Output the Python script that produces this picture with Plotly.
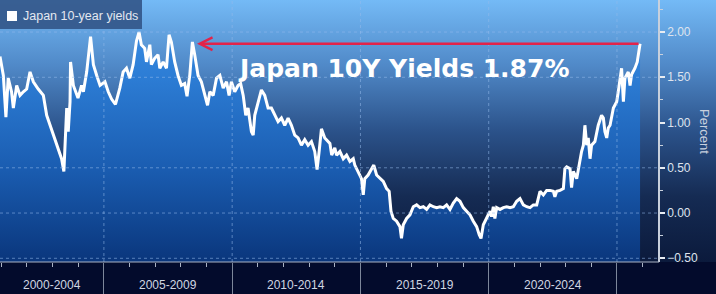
import plotly.graph_objects as go

# ---------------- data ----------------
YEARS = [
    2000.95, 2001.08, 2001.18, 2001.27, 2001.40, 2001.47, 2001.60, 2001.73, 2001.86, 2001.99,
    2002.12, 2002.25, 2002.44, 2002.64, 2002.77, 2002.90, 2003.03, 2003.22, 2003.35, 2003.44,
    2003.51, 2003.55, 2003.61, 2003.68, 2003.70, 2003.81, 2003.99, 2004.13, 2004.20, 2004.33,
    2004.48, 2004.59, 2004.72, 2004.85, 2005.04, 2005.17,
    2005.30, 2005.45, 2005.62, 2005.75, 2005.88, 2006.01, 2006.14, 2006.27, 2006.37, 2006.46,
    2006.59, 2006.66, 2006.79, 2006.85, 2006.98, 2007.11, 2007.18, 2007.31, 2007.44, 2007.54,
    2007.63, 2007.76, 2007.89, 2008.02, 2008.15, 2008.24, 2008.35, 2008.45, 2008.54, 2008.67,
    2008.80, 2008.93, 2009.04, 2009.13, 2009.26, 2009.39, 2009.52,
    2009.65, 2009.78, 2009.88, 2009.97, 2010.10, 2010.23, 2010.33, 2010.43, 2010.53, 2010.62,
    2010.75, 2010.82, 2010.88, 2011.01, 2011.14, 2011.27, 2011.40, 2011.53, 2011.66, 2011.79,
    2011.92, 2012.05, 2012.18, 2012.31, 2012.44, 2012.57, 2012.70, 2012.83, 2012.96, 2013.09,
    2013.22, 2013.31, 2013.39, 2013.48, 2013.61, 2013.74, 2013.81,
    2013.88, 2014.00, 2014.07, 2014.20, 2014.33, 2014.46, 2014.59, 2014.72, 2014.78, 2014.91,
    2015.04, 2015.11, 2015.17, 2015.30, 2015.43, 2015.52, 2015.63, 2015.76, 2015.89, 2016.02,
    2016.12, 2016.19, 2016.28, 2016.41, 2016.54, 2016.60, 2016.67, 2016.80, 2016.93, 2017.06,
    2017.19, 2017.32, 2017.45, 2017.58, 2017.71, 2017.84, 2017.97, 2018.10,
    2018.23, 2018.36, 2018.49, 2018.62, 2018.75, 2018.88, 2019.01, 2019.14, 2019.27, 2019.40,
    2019.53, 2019.63, 2019.70, 2019.79, 2019.92, 2020.05, 2020.11, 2020.18, 2020.24, 2020.31,
    2020.44, 2020.57, 2020.70, 2020.83, 2020.96, 2021.09, 2021.22, 2021.35, 2021.48, 2021.61,
    2021.74, 2021.87, 2022.00, 2022.13, 2022.26, 2022.39,
    2022.52, 2022.58, 2022.65, 2022.78, 2022.91, 2022.97, 2023.04, 2023.17, 2023.23, 2023.30,
    2023.43, 2023.49, 2023.56, 2023.62, 2023.69, 2023.75, 2023.82, 2023.88, 2023.95, 2024.01,
    2024.14, 2024.27, 2024.40, 2024.47, 2024.53, 2024.60, 2024.66, 2024.73, 2024.86, 2024.99,
    2025.05, 2025.12, 2025.18, 2025.25, 2025.31, 2025.44, 2025.51, 2025.57, 2025.70, 2025.79,
    2025.83, 2025.90,
]
YIELDS = [
    1.73, 1.52, 1.06, 1.49, 1.34, 1.16, 1.41, 1.30, 1.34, 1.37,
    1.56, 1.45, 1.37, 1.30, 1.08, 0.97, 0.86, 0.71, 0.60, 0.46,
    0.97, 1.16, 0.90, 1.23, 1.67, 1.41, 1.27, 1.41, 1.34, 1.56,
    1.95, 1.64, 1.52, 1.41, 1.45, 1.34,
    1.26, 1.20, 1.38, 1.56, 1.60, 1.49, 1.64, 1.90, 2.00, 1.86,
    1.82, 1.67, 1.86, 1.64, 1.71, 1.75, 1.60, 1.67, 1.60, 1.97,
    1.89, 1.67, 1.52, 1.41, 1.43, 1.29, 1.53, 1.89, 1.75, 1.52,
    1.45, 1.30, 1.19, 1.34, 1.30, 1.49, 1.52,
    1.38, 1.45, 1.30, 1.45, 1.34, 1.41, 1.43, 1.30, 1.08, 1.16,
    0.90, 0.86, 1.08, 1.23, 1.36, 1.30, 1.16, 1.16, 1.08, 1.01,
    1.05, 0.97, 1.05, 0.97, 0.86, 0.83, 0.75, 0.81, 0.75, 0.79,
    0.68, 0.48, 0.68, 0.93, 0.83, 0.79, 0.77,
    0.64, 0.72, 0.64, 0.68, 0.60, 0.64, 0.57, 0.60, 0.53, 0.46,
    0.38, 0.20, 0.38, 0.42, 0.49, 0.53, 0.42, 0.38, 0.35, 0.27,
    0.24, 0.02, -0.06, -0.09, -0.15, -0.28, -0.13, -0.06, -0.02, 0.07,
    0.09, 0.06, 0.07, 0.04, 0.09, 0.07, 0.06, 0.07,
    0.06, 0.09, 0.04, 0.11, 0.16, 0.13, 0.06, 0.02, -0.02, -0.09,
    -0.15, -0.24, -0.28, -0.13, -0.06, 0.02, -0.04, 0.07, -0.06, 0.06,
    0.04, 0.06, 0.07, 0.06, 0.07, 0.13, 0.16, 0.09, 0.07, 0.06,
    0.09, 0.09, 0.24, 0.20, 0.25, 0.25,
    0.24, 0.18, 0.24, 0.25, 0.27, 0.49, 0.51, 0.49, 0.28, 0.46,
    0.38, 0.49, 0.60, 0.68, 0.75, 0.97, 0.75, 0.83, 0.60, 0.75,
    0.79, 0.97, 1.08, 1.05, 0.90, 0.83, 0.94, 0.97, 1.16, 1.23,
    1.34, 1.49, 1.60, 1.23, 1.49, 1.56, 1.41, 1.53, 1.60, 1.67,
    1.75, 1.87,
]
SERIES_NAME = "Japan 10-year yields"
CALLOUT_TEXT = "Japan 10Y Yields 1.87%"
ARROW_TO_YEAR = 2008.63          # earlier peak the red arrow points to
PERIOD_STARTS = [2000, 2005, 2010, 2015, 2020]
PERIOD_LABELS = ["2000-2004", "2005-2009", "2010-2014", "2015-2019", "2020-2024"]
BOUNDARY_YEARS = [2005, 2010, 2015, 2020, 2025]
MINOR_YEARS = [y for y in range(2001, 2027) if y % 5 != 0]
Y_TICKS = [-0.5, 0.0, 0.5, 1.0, 1.5, 2.0]
GRID_Y = [-0.5, 0.0, 0.5, 1.5, 2.0]

# ---------------- layout constants ----------------
W, H = 716, 294
MB = 32
PLOT_H = H - MB
XMIN, XMAX = 2000.95, 2028.86
AXIS_YEAR = 2026.64
YMIN, YMAX = -0.541, 2.354
AX_POS = (AXIS_YEAR - XMIN) / (XMAX - XMIN)
FONT = "Liberation Sans, Arial, sans-serif"

BG_SCALE = [[0.0, "#0b1a3c"], [0.25, "#152b53"], [0.5, "#2b528a"],
            [0.75, "#5089c8"], [1.0, "#74baf6"]]
FILL_SCALE = [[0.0, "#0a367c"], [0.35, "#1a5cb0"], [0.7, "#2c7cd4"], [1.0, "#4096ec"]]
GRID_COLOR = "rgba(150,185,235,0.55)"

fig = go.Figure()

# gradient background over the whole plotting strip
fig.add_trace(go.Scatter(
    x=[XMIN, XMAX, XMAX, XMIN], y=[YMIN, YMIN, YMAX, YMAX],
    mode="lines", line=dict(width=0), fill="toself",
    fillgradient=dict(type="vertical", colorscale=BG_SCALE, start=YMIN, stop=YMAX),
    hoverinfo="skip", showlegend=False))

# baseline at the bottom of the plot for the area fill
fig.add_trace(go.Scatter(
    x=[YEARS[0], YEARS[-1]], y=[YMIN, YMIN], mode="lines", line=dict(width=0),
    hoverinfo="skip", showlegend=False))

fig.add_trace(go.Scatter(
    x=YEARS, y=YIELDS, mode="lines", name=SERIES_NAME,
    line=dict(color="white", width=3),
    fill="tonexty",
    fillgradient=dict(type="vertical", colorscale=FILL_SCALE, start=YMIN, stop=YMAX),
    hoverinfo="skip", showlegend=False))

shapes = []
for gy in GRID_Y:
    shapes.append(dict(type="line", xref="paper", yref="y", x0=0, x1=AX_POS, y0=gy, y1=gy,
                       line=dict(color=GRID_COLOR, width=1, dash="dot"), layer="above"))
for bx in BOUNDARY_YEARS:
    shapes.append(dict(type="line", xref="x", yref="paper", x0=bx, x1=bx, y0=0, y1=1,
                       line=dict(color=GRID_COLOR, width=1, dash="dot"), layer="above"))
# x axis baseline (stops at the value axis)
shapes.append(dict(type="line", xref="paper", yref="paper", x0=0, x1=AX_POS, y0=0, y1=0,
                   line=dict(color="#aab3c4", width=1), layer="above"))
# legend box
shapes.append(dict(type="rect", xref="paper", yref="paper", x0=0, x1=142 / W,
                   y0=1 - 29 / PLOT_H, y1=1, fillcolor="#33578a", line=dict(width=0),
                   opacity=0.92, layer="above"))
shapes.append(dict(type="rect", xref="paper", yref="paper", x0=7 / W, x1=17 / W,
                   y0=1 - 21 / PLOT_H, y1=1 - 11 / PLOT_H, fillcolor="white",
                   line=dict(width=0), layer="above"))

annotations = [
    dict(text=SERIES_NAME, xref="paper", yref="paper", x=21 / W, y=1 - 16.5 / PLOT_H,
         xanchor="left", yanchor="middle", showarrow=False,
         font=dict(family=FONT, size=12.5, color="#e4e8f0")),
    dict(text="", x=ARROW_TO_YEAR, y=YIELDS[-1], ax=YEARS[-1], ay=YIELDS[-1],
         xref="x", yref="y", axref="x", ayref="y", showarrow=True,
         arrowhead=5, arrowsize=1, arrowwidth=2.5, arrowcolor="#e3234a"),
    dict(text="<b>%s</b>" % CALLOUT_TEXT, xref="paper", yref="paper",
         x=236 / W, y=1 - 69 / PLOT_H, xanchor="left", yanchor="middle", showarrow=False,
         font=dict(family="DejaVu Sans, Verdana, sans-serif", size=25, color="white")),
    dict(text="Percent", xref="paper", yref="paper", x=705 / W, y=0.5, textangle=90,
         xanchor="center", yanchor="middle", showarrow=False,
         font=dict(family=FONT, size=13, color="#c9d1df")),
]
for s, lab in zip(PERIOD_STARTS, PERIOD_LABELS):
    lo, hi = max(s, XMIN), min(s + 5, AXIS_YEAR)
    annotations.append(dict(text=lab, xref="x", yref="paper", x=(lo + hi) / 2, y=0,
                            yshift=-23, xanchor="center", yanchor="middle",
                            showarrow=False, font=dict(family=FONT, size=12, color="#d0d6e2")))

fig.update_layout(
    width=W, height=H, autosize=False,
    margin=dict(l=0, r=0, t=0, b=MB, pad=0),
    paper_bgcolor="#030b2c", plot_bgcolor="#030b2c",
    showlegend=False,
    shapes=shapes, annotations=annotations,
    xaxis=dict(range=[XMIN, XMAX], showgrid=False, zeroline=False, showline=False,
               tickmode="array", tickvals=BOUNDARY_YEARS, ticks="outside", ticklen=MB,
               tickcolor="#7d879b", tickwidth=1, showticklabels=False,
               minor=dict(tickmode="array", tickvals=MINOR_YEARS, ticks="outside",
                          ticklen=4, tickcolor="#aab3c4", tickwidth=1),
               fixedrange=True),
    yaxis=dict(range=[YMIN, YMAX], anchor="free", position=AX_POS, side="right",
               showgrid=False, zeroline=False, showline=True, linecolor="#c8d0dc",
               linewidth=1.5, tickmode="array", tickvals=Y_TICKS, tickformat=".2f",
               ticks="outside", ticklen=5, tickwidth=2, tickcolor="#e8ecf2",
               tickfont=dict(family=FONT, size=12, color="#dfe4ee"),
               minor=dict(dtick=0.25, tick0=0, ticks="outside", ticklen=3,
                          tickcolor="#c8d0dc", tickwidth=1),
               fixedrange=True),
)

fig.write_html("out.html")
